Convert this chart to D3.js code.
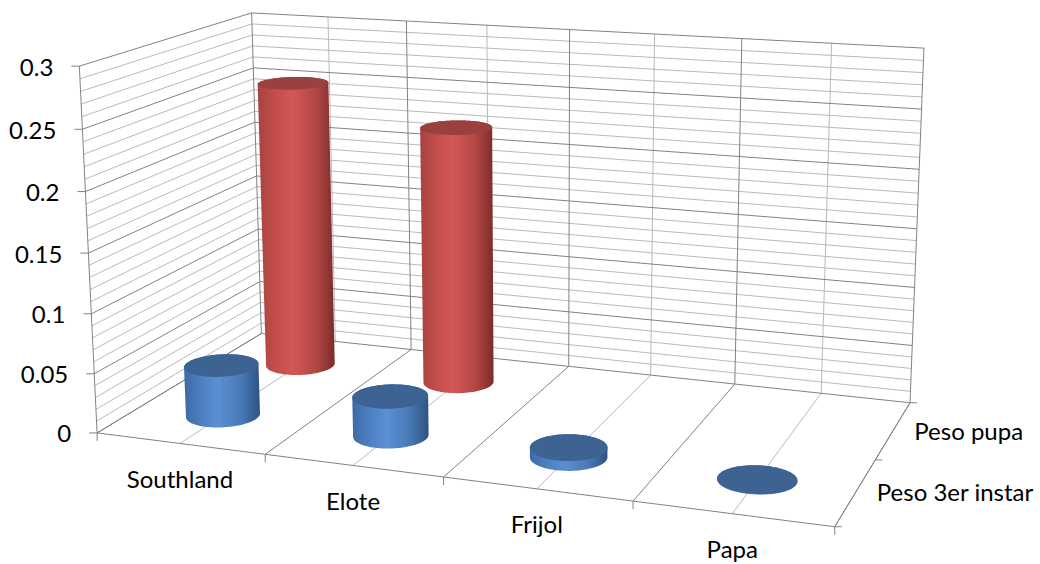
<!DOCTYPE html>
<html><head><meta charset="utf-8">
<script src="https://cdn.jsdelivr.net/npm/d3@7"></script>
<style>
body{margin:0;background:#fff}
svg{display:block}
text{font-family:Lato,"Noto Sans",sans-serif;fill:#000}
</style>
</head><body>
<svg id="chart" width="1040" height="564"></svg>
<script>
// ---------------- data ----------------
const categories = ["Southland", "Elote", "Frijol", "Papa"];
const seriesNames = ["Peso 3er instar", "Peso pupa"];          // front row -> back row
const pesoTercerInstar = [0.043, 0.033, 0.008, 0.0005];
const pesoPupa = [0.253, 0.224, null, null];
const valueTicks = [0, 0.05, 0.1, 0.15, 0.2, 0.25, 0.3];
const valueTickLabels = ["0", "0.05", "0.1", "0.15", "0.2", "0.25", "0.3"];

// ---------------- 3D frame calibration (world X=category, Y=value*10, Z=series depth) ----------------
const frameAnchors = [
  [0,0,0, 97,432],[1,0,0, 267,455],[2,0,0, 445,479],[3,0,0, 632,503],[4,0,0, 832,527],
  [4,0,1, 877,458],[4,0,2, 913,401],[0,0,2, 262,335],[1,0,2, 410,350],[2,0,2, 567,366],[3,0,2, 733,383],
  [0,3,0, 80,65],[0,2.5,0, 82,128],[0,2,0, 84,192],[0,0.5,0, 95,373],
  [0,3,2, 252,13],[4,3,2, 924,50]
];
const N0u = 500, N0v = 280, NS = 500;
function solveLinear(M){
  const n = M.length;
  for (let i=0;i<n;i++){
    let p=i; for (let r=i+1;r<n;r++) if (Math.abs(M[r][i])>Math.abs(M[p][i])) p=r;
    [M[i],M[p]]=[M[p],M[i]];
    for (let r=0;r<n;r++){ if(r===i) continue; const f=M[r][i]/M[i][i]; for(let c=i;c<=n;c++) M[r][c]-=f*M[i][c]; }
  }
  return M.map((row,i)=>row[n]/row[i]);
}
function fitCamera(pairs){
  const rows=[], rhs=[];
  for (const [X,Y,Z,u0,v0] of pairs){
    const u=(u0-N0u)/NS, v=(v0-N0v)/NS;
    rows.push([X,Y,Z,1,0,0,0,0,-u*X,-u*Y,-u*Z]); rhs.push(u);
    rows.push([0,0,0,0,X,Y,Z,1,-v*X,-v*Y,-v*Z]); rhs.push(v);
  }
  const n=11, M=[...Array(n)].map(()=>new Array(n+1).fill(0));
  rows.forEach((a,r)=>{ for(let i=0;i<n;i++){ for(let j=0;j<n;j++) M[i][j]+=a[i]*a[j]; M[i][n]+=a[i]*rhs[r]; } });
  return solveLinear(M);
}
const P = fitCamera(frameAnchors);
function project([X,Y,Z]){
  const w = P[8]*X + P[9]*Y + P[10]*Z + 1;
  return [N0u + NS*(P[0]*X+P[1]*Y+P[2]*Z+P[3])/w, N0v + NS*(P[4]*X+P[5]*Y+P[6]*Z+P[7])/w];
}

// ---------------- scales ----------------
const x = d3.scaleBand().domain(categories).range([0,4]).padding(0);
const z = d3.scaleBand().domain(seriesNames).range([0,2]).padding(0);
const y = d3.scaleLinear().domain([0,0.3]).range([0,3]);
const X0 = 0, X1 = 4, Z0 = 0, Z1 = 2;

const svg = d3.select("#chart");
const line = d3.line();
const MAJOR = "#828282", MINOR = "#bababa";
const gGrid = svg.append("g").attr("fill","none");

function seg(a,b,color,w){
  gGrid.append("path").attr("d", line([project(a), project(b)])).attr("stroke",color).attr("stroke-width",w||1);
}

// minor then major horizontal gridlines on left wall (X=0) and back wall (Z=2)
const minorVals = y.ticks(30);
const majorVals = y.ticks(6);
minorVals.forEach(v=>{
  if (majorVals.some(m=>Math.abs(m-v)<1e-9)) return;
  seg([X0,y(v),Z0],[X0,y(v),Z1],MINOR);
  seg([X0,y(v),Z1],[X1,y(v),Z1],MINOR);
});
// back wall vertical lines: category centres (light) and boundaries (dark)
categories.forEach(c=>{
  const cx = x(c)+x.bandwidth()/2;
  seg([cx,0,Z1],[cx,y(0.3),Z1],MINOR);
  seg([cx,0,Z0],[cx,0,Z1],MINOR);   // floor centre lines
});
majorVals.forEach(v=>{
  seg([X0,y(v),Z0],[X0,y(v),Z1],MAJOR);
  seg([X0,y(v),Z1],[X1,y(v),Z1],MAJOR);
});
const bounds = categories.map(c=>x(c)).concat([X1]);
bounds.forEach(b=>{
  seg([b,0,Z1],[b,y(0.3),Z1],MAJOR);
  seg([b,0,Z0],[b,0,Z1],MAJOR);      // floor boundary lines
});
// axes
seg([X0,0,Z0],[X0,y(0.3),Z0],MAJOR);   // value axis
seg([X0,0,Z0],[X1,0,Z0],MAJOR);        // category axis
seg([X1,0,Z0],[X1,0,Z1],MAJOR);        // series axis

// ticks
const gTick = svg.append("g").attr("stroke",MAJOR).attr("fill","none");
valueTicks.forEach(v=>{
  const p = project([X0,y(v),Z0]);
  gTick.append("path").attr("d", line([[p[0]-8,p[1]],p]));
});
bounds.forEach(b=>{
  const p = project([b,0,Z0]);
  gTick.append("path").attr("d", line([p,[p[0],p[1]+8]]));
});
[0,1,2].forEach(d=>{
  const p = project([X1,0,d]);
  gTick.append("path").attr("d", line([p,[p[0]+7,p[1]]]));
});

// ---------------- cylinders ----------------
const defs = svg.append("defs");
const palette = {
  "Peso 3er instar": {stops:["#3c6aa6","#4f82c4","#5b8fd3","#4a79b6","#2d5382"], cap:"#3d6393"},
  "Peso pupa":       {stops:["#a8423f","#c44f4c","#d15856","#b44745","#7c2b29"], cap:"#9a403e"}
};
Object.entries(palette).forEach(([name,p],i)=>{
  const g = defs.append("linearGradient").attr("id","grad"+i).attr("x1",0).attr("x2",1).attr("y1",0).attr("y2",0);
  [0,0.25,0.45,0.75,1].forEach((o,k)=>g.append("stop").attr("offset",o).attr("stop-color",p.stops[k]));
  p.grad = "url(#grad"+i+")";
});

const RX = 0.2, RZ = 0.21, NSEG = 96;
const bars = [];
seriesNames.slice().reverse().forEach(s=>{
  const vals = s === "Peso pupa" ? pesoPupa : pesoTercerInstar;
  categories.forEach((c,i)=>{ if (vals[i] != null) bars.push({series:s, cat:c, value:vals[i]}); });
});
const gBars = svg.append("g");
bars.forEach(d=>{
  const cx = x(d.cat)+x.bandwidth()/2, cz = z(d.series)+z.bandwidth()/2;
  const top = y(d.value);
  const ring = (Y)=>d3.range(NSEG).map(k=>{
    const t = 2*Math.PI*k/NSEG;
    return project([cx+RX*Math.cos(t), Y, cz+RZ*Math.sin(t)]);
  });
  const bottomRing = ring(0), topRing = ring(top);
  const hull = d3.polygonHull(bottomRing.concat(topRing));
  gBars.append("path").attr("d","M"+hull.join("L")+"Z").attr("fill",palette[d.series].grad);
  gBars.append("path").attr("d","M"+topRing.join("L")+"Z").attr("fill",palette[d.series].cap);
});

// ---------------- labels ----------------
const gLab = svg.append("g").style("font-size","24px");
valueTicks.forEach((v,i)=>{
  const p = project([X0,y(v),Z0]);
  gLab.append("text").attr("x",p[0]-26).attr("y",p[1]).attr("text-anchor","end").attr("dominant-baseline","central").text(valueTickLabels[i]);
});
categories.forEach(c=>{
  const p = project([x(c)+x.bandwidth()/2,0,Z0]);
  gLab.append("text").attr("x",p[0]).attr("y",p[1]+35).attr("text-anchor","middle").attr("dominant-baseline","central").text(c);
});
seriesNames.forEach(s=>{
  const p = project([X1,0,z(s)+z.bandwidth()/2]);
  gLab.append("text").attr("x",p[0]+21).attr("y",p[1]).attr("text-anchor","start").attr("dominant-baseline","central").text(s);
});
</script>
</body></html>
